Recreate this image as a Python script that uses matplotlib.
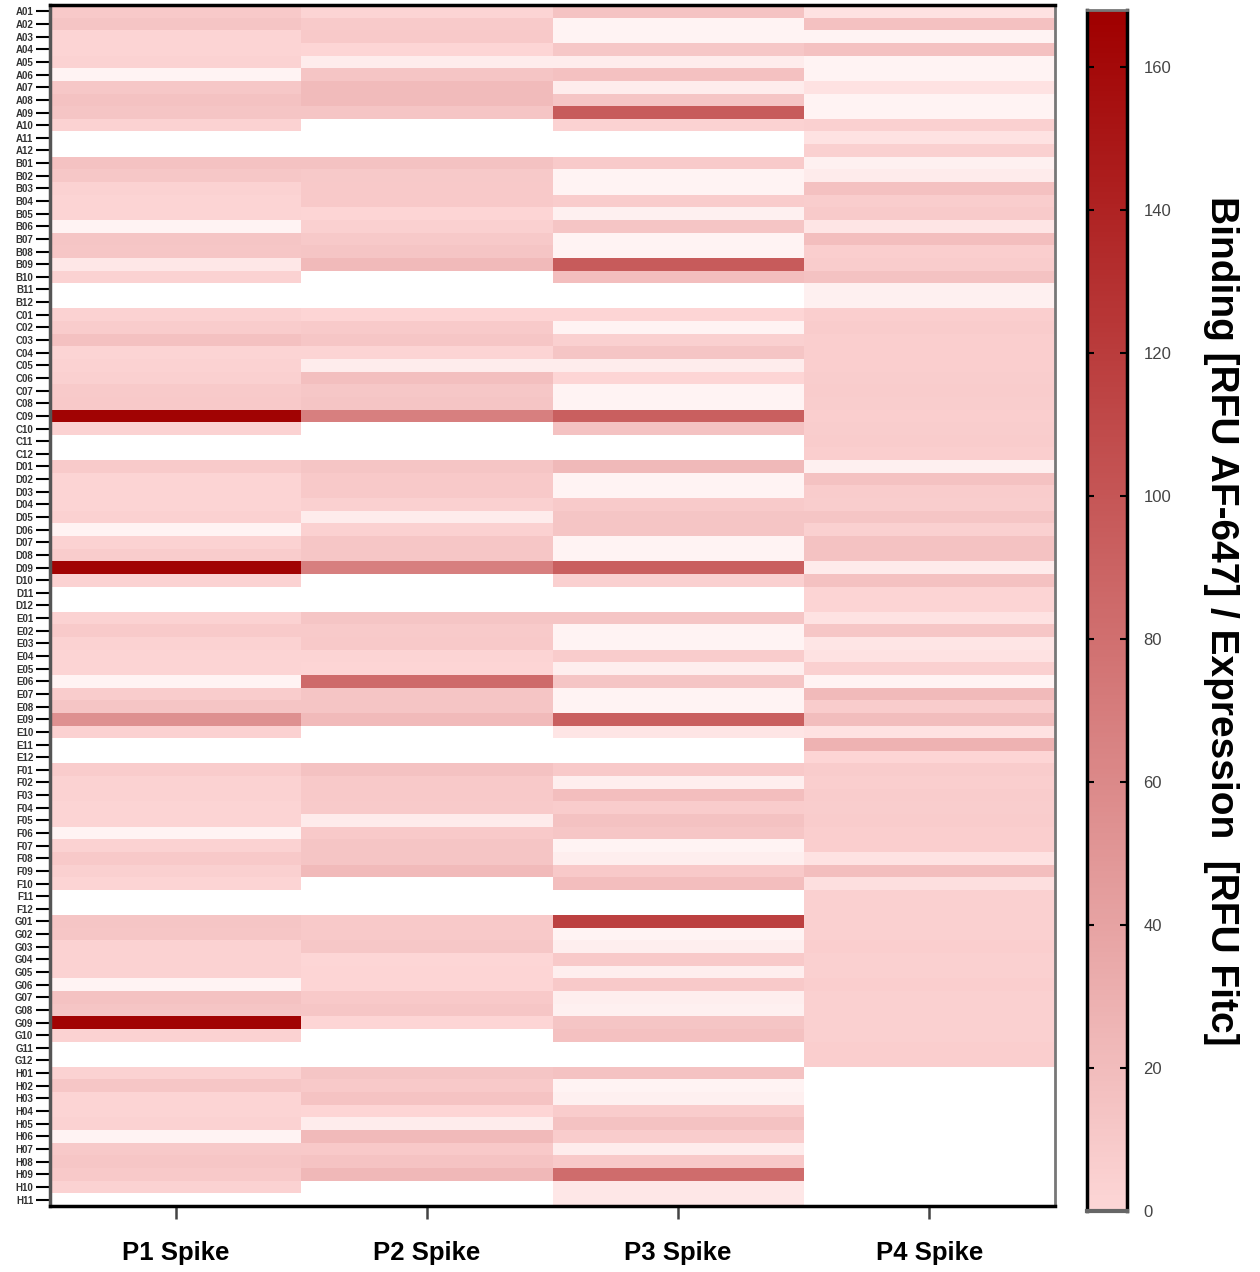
import numpy as np
import matplotlib.pyplot as plt
from matplotlib.colors import LinearSegmentedColormap, Normalize

plt.rcParams['font.family'] = ['Liberation Sans', 'DejaVu Sans']

nan = np.nan

plates = ["P1 Spike", "P2 Spike", "P3 Spike", "P4 Spike"]
plate_rows = "ABCDEFGH"
wells = [f"{r}{c:02d}" for r in plate_rows for c in range(1, 13)][:95]

# binding / expression per well, one list per plate (nan = not measured)
p1 = [10, 14, 2, 2, 3, -20, 12, 16, 14, 3, nan, nan,
      16, 12, 3, 2, 2, -20, 14, 13, -12, 3, nan, nan,
      3, 8, 17, 2, 3, 5, 9, 10, 165, 3, nan, nan,
      9, 2, 2, 2, 4, -20, 3, 8, 165, 3, nan, nan,
      3, 9, 3, 2, 2, -20, 8, 14, 55, 4, nan, nan,
      8, 3, 3, 2, 2, -20, 3, 10, 5, 2, nan, nan,
      14, 13, 3, 3, 3, -20, 16, 14, 165, 3, nan, nan,
      3, 13, 2, 2, 3, -20, 11, 13, 10, 3, nan]
p2 = [2, 9, 10, 1, -15, 14, 21, 21, 14, nan, nan, nan,
      16, 11, 10, 10, 1, 5, 11, 14, 22, nan, nan, nan,
      1, 9, 13, 2, -15, 18, 12, 14, 68, nan, nan, nan,
      14, 10, 10, 5, -15, 4, 13, 13, 68, nan, nan, nan,
      14, 9, 10, 2, 1, 85, 14, 14, 22, nan, nan, nan,
      16, 10, 10, 9, -14, 10, 14, 14, 22, nan, nan, nan,
      10, 10, 12, 0, 1, 1, 10, 13, 1, nan, nan, nan,
      14, 10, 15, 1, -15, 22, 10, 15, 24, nan, nan]
p3 = [15, -20, -20, 12, -15, 17, -15, 14, 97, 3, nan, nan,
      9, -20, -20, 8, -18, 14, -20, -20, 97, 19, nan, nan,
      1, -20, 5, 14, -15, 1, -20, -20, 93, 16, nan, nan,
      23, -20, -20, 9, 14, 14, -20, -20, 93, 5, nan, nan,
      14, -20, -20, 8, -16, 14, -20, -20, 93, -10, nan, nan,
      10, -16, 19, 8, 16, 13, -20, -16, 10, 19, nan, nan,
      118, -20, -16, 10, -16, 10, -16, -18, 14, 17, nan, nan,
      16, -20, -18, 8, 16, 8, -15, 10, 83, -12, -12]
p4 = [-8, 17, -20, 17, -20, -20, -8, -20, -20, 5, -8, 5,
      -18, -14, 17, 7, 9, -10, 19, 6, 8, 16, -18, -18,
      6, 8, 6, 6, 6, 7, 8, 7, 6, 7, 8, 6,
      -18, 16, 8, 7, 14, 5, 16, 16, -14, 17, 2, 2,
      -8, 13, -10, -8, 5, -20, 22, 8, 20, -8, 28, 1,
      8, 6, 8, 7, 8, 6, 6, -8, 19, -6, 5, 5,
      5, 5, 6, 5, 5, 6, 5, 5, 5, 5, 6, 6,
      nan, nan, nan, nan, nan, nan, nan, nan, nan, nan, nan]

data = np.array([p1, p2, p3, p4], dtype=float).T

vmin, vmax = -25, 168
cmap = LinearSegmentedColormap.from_list(
    "rfu", [(0, "#fffafa"), (-vmin / (vmax - vmin), "#fdd6d6"), (1, "#a00000")])
norm = Normalize(vmin, vmax)

fig = plt.figure(figsize=(12.6, 12.72), dpi=100)
ax = fig.add_axes([0.0397, 0.052, 0.7976, 0.944])
ax.pcolormesh(np.arange(data.shape[1] + 1), np.arange(data.shape[0] + 1),
              np.ma.masked_invalid(data), cmap=cmap, norm=norm)
ax.set_xlim(0, data.shape[1])
ax.set_ylim(data.shape[0], 0)

ax.set_xticks(np.arange(len(plates)) + 0.5)
ax.set_xticklabels(plates, fontsize=18.5, fontweight='bold')
ax.set_yticks(np.arange(len(wells)) + 0.5)
ax.set_yticklabels(wells, fontsize=7, fontweight='bold', color='#333333')
ax.tick_params(axis='x', length=9, width=1.8, color='#444444', pad=16)
ax.tick_params(axis='y', length=10, width=1.5, color='black', pad=2)

for side, c, lw in [('left', '#555555', 2.5), ('bottom', 'black', 2.5),
                    ('top', 'black', 2.5), ('right', '#777777', 2)]:
    ax.spines[side].set_color(c)
    ax.spines[side].set_linewidth(lw)

# colour bar, shown from 0 only
cax = fig.add_axes([0.8627, 0.048, 0.0317, 0.9442])
grad = np.linspace(0, vmax, 512).reshape(-1, 1)
cax.imshow(grad, aspect='auto', cmap=cmap, norm=norm, origin='lower',
           extent=[0, 1, 0, vmax])
cax.set_xticks([])
cax.set_ylim(0, vmax)
cax.set_yticks(np.arange(0, 161, 20))
cax.tick_params(axis='y', direction='in', left=True, right=True,
                labelleft=False, labelright=True, length=5, width=1.5,
                pad=12, labelsize=12, labelcolor='#444444')
for side, c, lw in [('left', 'black', 2.5), ('right', 'black', 2.5),
                    ('top', '#777777', 2), ('bottom', '#666666', 3)]:
    cax.spines[side].set_color(c)
    cax.spines[side].set_linewidth(lw)

fig.text(0.969, 0.512, "Binding [RFU AF-647] / Expression  [RFU Fitc]",
         rotation=270, ha='center', va='center', fontsize=28, fontweight='bold')

fig.savefig("out.png", dpi=100)
